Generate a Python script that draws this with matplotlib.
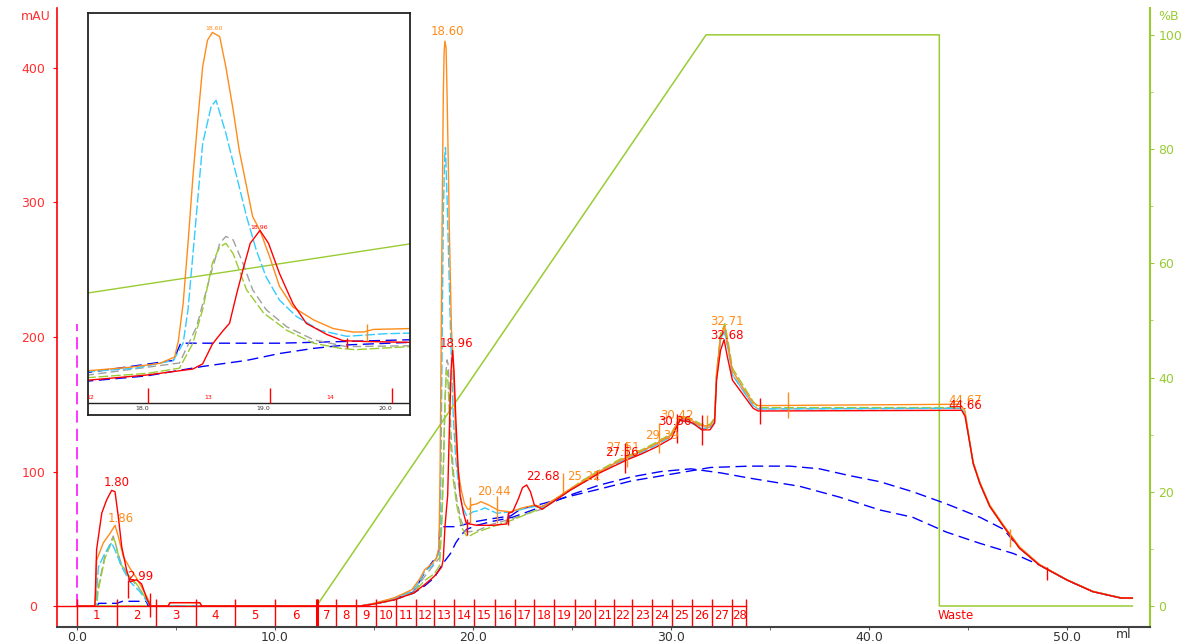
import matplotlib.pyplot as plt
from matplotlib.ticker import MultipleLocator

plt.rcParams['font.family'] = 'DejaVu Sans'

# UV traces as (ml, mAU)
red = [(0, 0), (0.9, 0), (0.92, 7), (0.99, 42), (1.25, 69), (1.5, 79), (1.75, 86), (1.92, 85), (2.09, 66),
       (2.26, 44), (2.5, 27), (2.68, 18), (3.0, 19.5), (3.26, 16.5), (3.52, 5.7), (3.7, 0),
       (4.6, 0), (4.7, 2.5), (6.2, 2.5), (6.3, 0),
       (14.3, 0), (15.0, 1.5), (16.0, 4.5), (17.0, 9.6),
       (17.56, 16), (18.04, 22), (18.42, 29), (18.50, 35), (18.58, 58), (18.67, 74), (18.72, 82), (18.78, 117),
       (18.83, 144), (18.89, 175), (18.97, 190), (19.04, 175), (19.13, 140), (19.24, 105), (19.35, 82),
       (19.52, 69), (19.65, 62), (19.82, 61), (20.20, 60),
       (21.0, 60), (21.7, 61), (21.8, 69), (22.0, 70), (22.3, 80), (22.5, 88), (22.71, 90), (22.9, 85),
       (23.1, 75), (23.5, 72), (24.2, 79), (24.9, 86), (25.6, 92), (26.4, 99), (27.4, 106), (27.76, 108.6),
       (28.5, 113), (29.28, 118.4), (30.03, 124.7), (30.25, 132), (30.45, 138), (30.9, 137), (31.1, 136),
       (31.55, 131), (31.97, 131), (32.2, 136), (32.3, 168), (32.5, 190), (32.68, 198), (32.85, 185),
       (33.1, 168), (33.6, 158), (34.15, 147), (34.4, 145),
       (44.68, 145.5), (44.85, 141), (45.0, 128.6), (45.26, 106), (45.6, 91), (46.1, 74), (46.8, 59),
       (47.6, 43), (48.6, 30.5), (50.0, 19.3), (51.3, 10.7), (52.7, 6), (53.3, 5.9)]

orange = [(0, 0), (0.9, 0), (0.95, 10), (0.99, 34), (1.33, 47), (1.67, 54), (1.92, 60), (2.09, 51.5),
          (2.34, 36.7), (2.68, 28), (3.0, 21), (3.52, 7), (3.75, 0),
          (4.6, 0), (4.7, 2.5), (6.2, 2.5), (6.3, 0),
          (14.3, 0), (15.0, 2), (16.0, 6), (16.9, 12), (17.3, 20),
          (17.56, 27), (17.90, 31), (18.15, 35.6), (18.27, 43), (18.30, 61), (18.34, 105), (18.38, 175),
          (18.42, 252), (18.46, 318), (18.50, 380), (18.54, 411), (18.58, 420), (18.64, 415), (18.69, 380),
          (18.75, 330), (18.80, 283), (18.86, 241), (18.91, 206), (18.97, 190), (19.05, 159), (19.13, 125),
          (19.24, 101), (19.41, 86), (19.57, 76), (19.73, 72), (19.82, 72), (19.90, 75), (20.20, 76),
          (20.4, 77.6), (20.8, 75), (21.3, 71), (21.9, 70), (22.5, 73), (23.1, 75), (23.5, 74), (24.2, 80),
          (24.9, 87), (25.6, 93), (26.4, 100), (27.4, 108), (28.5, 115), (29.3, 121), (30.0, 127),
          (30.25, 134), (30.45, 140), (30.9, 139), (31.55, 134), (31.97, 134), (32.2, 139), (32.3, 172),
          (32.5, 200), (32.71, 208), (32.9, 192), (33.1, 175), (33.6, 163), (34.15, 151), (34.4, 149),
          (44.6, 150), (44.85, 145), (45.0, 130), (45.26, 107), (45.6, 92), (46.1, 75), (46.8, 60),
          (47.6, 44), (48.6, 31), (50.0, 19.5), (51.3, 11), (52.7, 6.2), (53.3, 6)]

cyan = [(0, 0), (0.95, 0), (1.0, 12), (1.08, 29), (1.4, 39), (1.75, 47), (1.92, 41.6), (2.26, 29), (2.68, 18),
        (3.18, 10.6), (3.6, 2), (3.8, 0),
        (14.3, 0), (15.0, 2), (16.0, 5.5), (16.9, 11), (17.3, 18),
        (17.56, 26), (17.95, 30), (18.26, 39), (18.34, 59), (18.38, 98), (18.44, 194), (18.50, 291),
        (18.57, 334), (18.61, 341), (18.69, 303), (18.78, 252), (18.86, 206), (18.94, 167), (19.02, 136),
        (19.13, 109), (19.27, 90), (19.46, 74), (19.68, 67), (20.0, 70), (20.3, 71), (20.6, 73), (21.2, 69),
        (21.9, 70), (22.5, 72), (23.1, 74), (23.5, 73), (24.2, 79), (24.9, 86), (25.6, 92), (26.4, 99),
        (27.4, 107), (28.5, 114), (29.3, 120), (30.0, 126), (30.25, 133), (30.45, 138), (30.9, 137),
        (31.55, 132), (31.97, 132), (32.2, 137), (32.3, 170), (32.5, 198), (32.7, 205), (32.9, 190),
        (33.1, 172), (33.6, 161), (34.15, 149), (34.4, 146.5),
        (44.6, 147), (44.85, 143), (45.0, 129), (45.26, 106.5), (45.6, 91.5), (46.1, 74.5), (46.8, 59.5),
        (47.6, 43.5), (48.6, 31), (50.0, 19.5), (51.3, 11), (52.7, 6.2), (53.3, 6)]

green = [(0, 0), (1.0, 0), (1.05, 10), (1.4, 35), (1.83, 50.4), (1.92, 48), (2.18, 32), (2.5, 24.5),
         (3.0, 16.6), (3.5, 5), (3.75, 0),
         (14.3, 0), (15.0, 1.5), (16.0, 4.5), (17.0, 10),
         (17.56, 19), (18.05, 24), (18.31, 30), (18.42, 59), (18.50, 98), (18.58, 152), (18.64, 171),
         (18.69, 175), (18.75, 163), (18.86, 121), (19.0, 94), (19.19, 74), (19.41, 59), (19.63, 53),
         (19.75, 51.5), (20.2, 55),
         (21.0, 59), (22.0, 64), (23.0, 70), (23.5, 73), (24.2, 80), (24.9, 87), (25.6, 94), (26.4, 101),
         (27.4, 109), (28.5, 116), (29.3, 122), (30.0, 128), (30.25, 135), (30.45, 141), (30.9, 140),
         (31.55, 135), (31.97, 135), (32.2, 140), (32.3, 174), (32.5, 202), (32.72, 210), (32.9, 195),
         (33.1, 177), (33.6, 165), (34.15, 152), (34.4, 147.5),
         (44.6, 147.5), (44.85, 143), (45.0, 129), (45.26, 106), (45.6, 91), (46.1, 74), (46.8, 59),
         (47.6, 43), (48.6, 30.5), (50.0, 19.3), (51.3, 10.7), (52.7, 6), (53.3, 5.9)]

gray = [(0, 0), (1.0, 0), (1.05, 12), (1.4, 37), (1.83, 52), (2.2, 33), (2.6, 22), (3.1, 14), (3.6, 3),
        (3.8, 0),
        (14.3, 0), (15.0, 1.5), (16.0, 4.8), (17.0, 10.5),
        (17.56, 22), (18.31, 36), (18.45, 78), (18.56, 136), (18.64, 175), (18.69, 183), (18.75, 179),
        (18.83, 152), (18.91, 121), (19.02, 98), (19.19, 78), (19.41, 63), (19.68, 55), (20.2, 56),
        (21.0, 61), (22.0, 65), (23.0, 70), (23.5, 72), (24.2, 79), (24.9, 86), (25.6, 93), (26.4, 100),
        (27.4, 108), (28.5, 115), (29.3, 121), (30.0, 127), (30.25, 134), (30.45, 139), (30.9, 138),
        (31.55, 133), (31.97, 133), (32.2, 138), (32.3, 171), (32.5, 199), (32.7, 204), (32.9, 190),
        (33.1, 172), (33.6, 161), (34.15, 149), (34.4, 146.5),
        (44.6, 147), (44.85, 143), (45.0, 129), (45.26, 106), (45.6, 91), (46.1, 74), (46.8, 59),
        (47.6, 43), (48.6, 30.5), (50.0, 19.3), (51.3, 10.7), (52.7, 6), (53.3, 5.9)]

blue_a = [(1.0, 0), (1.1, 2), (2.0, 2), (2.3, 3.5), (3.5, 3.5), (3.6, 0),
          (14.3, 0), (15.0, 1.5), (16.0, 5), (17.0, 10.5),
          (17.56, 25), (18.26, 39), (18.32, 59), (19.13, 59), (20.2, 63), (21.0, 65), (21.9, 67), (22.4, 72),
          (23.5, 76), (25.0, 82), (26.4, 87), (28.0, 93), (30.0, 98), (32.0, 103), (34.0, 104), (36.0, 104),
          (37.5, 102), (39.0, 97), (40.55, 92.4), (42.2, 85), (43.9, 76), (45.6, 66), (46.8, 57),
          (47.6, 43), (48.6, 30.5), (50.0, 19.3), (51.3, 10.7), (52.7, 6), (53.3, 5.9)]

blue_b = [(14.3, 0), (15.0, 1.5), (16.0, 4.5), (17.0, 9.6),
          (17.56, 15), (18.04, 21), (18.50, 32), (18.86, 39), (19.13, 47), (19.41, 53), (19.68, 57),
          (20.2, 60), (21.0, 63), (22.0, 66), (23.5, 74), (25.0, 83), (26.4, 90), (28.0, 96), (29.5, 100),
          (31.0, 102), (32.5, 99), (34.0, 95), (36.5, 89), (38.5, 81), (40.55, 71.4), (42.2, 66),
          (43.9, 55), (45.6, 46.6), (47.3, 39), (48.6, 30.5), (50.0, 19.3), (51.3, 10.7), (52.7, 6),
          (53.3, 5.9)]

# %B gradient
grad_ml = [0.95, 12.1, 31.77, 43.55, 43.55, 53.3]
grad_pct = [0, 0, 100, 100, 0, 0]

# fractions
frac_edges = [0, 2, 4, 6, 8, 10, 12.1, 13.1, 14.1, 15.1, 16.1, 17.1, 18.05, 19.05, 20.05, 21.1, 22.1,
              23.1, 24.1, 25.15, 26.15, 27.1, 28.05, 29.05, 30.05, 31.05, 32.05, 33.1, 33.8]
frac_names = [str(i) for i in range(1, 29)]

# peak-end markers
red_mark_ml = [2.6, 3.7, 19.68, 21.77, 26.25, 27.7, 30.3, 31.55, 34.5, 49.0]
red_mark_lo = [6, -8, 53, 60, 94, 99, 121, 120, 135, 19]
red_mark_hi = [19, 10, 65, 70, 101, 121, 143, 142, 155, 29]
orange_mark_ml = [19.85, 21.2, 24.55, 27.8, 29.4, 31.8, 35.9, 47.1]
orange_mark_lo = [62, 62, 84, 103, 114, 131, 140, 44]
orange_mark_hi = [81, 82, 99, 121, 136, 142, 159, 57]

# peak labels
RED, ORANGE = '#ff0000', '#ff8c1a'
peak_text = ['1.80', '1.86', '2.99', '18.60', '18.96', '20.44', '22.68', '25.22', '27.51', '27.56',
             '29.39', '30.42', '30.36', '32.71', '32.68', '44.67', '44.66']
peak_x = [2.02, 2.22, 3.18, 18.69, 19.14, 21.06, 23.54, 25.6, 27.57, 27.53,
          29.55, 30.3, 30.2, 32.83, 32.83, 44.85, 44.85]
peak_y = [91.5, 64.7, 22, 427, 195.5, 85, 96, 96, 118, 114,
          127, 142, 137, 211.5, 201, 153, 149]
peak_col = [RED, ORANGE, RED, ORANGE, RED, ORANGE, RED, ORANGE, ORANGE, RED,
            ORANGE, ORANGE, RED, ORANGE, RED, ORANGE, RED]

W, H = 1188, 642


def box(x0, y0, x1, y1):
    return [x0 / W, 1 - y1 / H, (x1 - x0) / W, (y1 - y0) / H]


traces = [
    (blue_b, '#0000ff', (0, (8, 4))),
    (blue_a, '#0000ff', (0, (8, 4))),
    (gray, '#a0a0a0', (0, (6, 3))),
    (green, '#99cc33', (0, (7, 2))),
    (cyan, '#33ccff', (0, (7, 2))),
    (orange, ORANGE, '-'),
    (red, RED, '-'),
]
GREEN = '#99cc33'

fig = plt.figure(figsize=(W / 100, H / 100), dpi=100)
ax = fig.add_axes(box(57, 8, 1150, 627))
ax2 = ax.twinx()
ax.set_zorder(ax2.get_zorder() + 1)
ax.patch.set_visible(False)

ax.set_xlim(-1.01, 54.19)
ax.set_ylim(-15.6, 444.6)
ax2.set_ylim(-3.68, 104.7)

ax2.plot(grad_ml, grad_pct, color=GREEN, lw=1.1)
for pts, col, ls in traces:
    x, y = zip(*pts)
    ax.plot(x, y, color=col, ls=ls, lw=1.0)

ax.plot([0, 0], [0, 210], color='#ff00ff', ls=(0, (8, 4)), lw=1.1)
ax.plot([-1.01, 33.8], [0, 0], color=RED, lw=1.0)
ax.vlines(frac_edges, -15.6, 5, color=RED, lw=1.0)
ax.vlines([12.1], -15.6, 5, color=RED, lw=2.2)
for i, name in enumerate(frac_names):
    ax.text((frac_edges[i] + frac_edges[i + 1]) / 2, -6.7, name, color=RED, fontsize=8.5,
            ha='center', va='center')
ax.text(44.4, -6.7, 'Waste', color=RED, fontsize=8.5, ha='center', va='center')

ax.vlines(red_mark_ml, red_mark_lo, red_mark_hi, color=RED, lw=1.0)
ax.vlines(orange_mark_ml, orange_mark_lo, orange_mark_hi, color=ORANGE, lw=1.0)
for t, x, y, c in zip(peak_text, peak_x, peak_y, peak_col):
    ax.text(x, y, t, color=c, fontsize=8.5, ha='center', va='center')

# axes styling
ax.spines['top'].set_visible(False)
ax.spines['right'].set_visible(False)
ax.spines['left'].set_color(RED)
ax.spines['left'].set_linewidth(1.2)
ax.spines['bottom'].set_color('#404040')
ax.spines['bottom'].set_linewidth(1.5)
for s in ['top', 'left', 'bottom']:
    ax2.spines[s].set_visible(False)
ax2.spines['right'].set_color(GREEN)
ax2.spines['right'].set_linewidth(1.5)

ax.set_xticks(range(0, 51, 10))
ax.set_xticklabels([f'{v:.1f}' for v in range(0, 51, 10)])
ax.xaxis.set_minor_locator(MultipleLocator(5))
ax.tick_params(axis='x', which='both', length=2, color='#505050', labelcolor='#333333',
               labelsize=9, pad=1)
ax.set_yticks(range(0, 401, 100))
ax.tick_params(axis='y', length=3, color=RED, labelcolor='#ff3030', labelsize=9, pad=14)
for lab in ax.get_yticklabels():
    lab.set_horizontalalignment('center')

ax2.set_yticks(range(0, 101, 20))
ax2.yaxis.set_minor_locator(MultipleLocator(10))
ax2.tick_params(axis='y', which='major', length=3, color=GREEN, labelcolor=GREEN, labelsize=9, pad=3)
ax2.tick_params(axis='y', which='minor', length=2, color=GREEN)

fig.text(36 / W, 1 - 17 / H, 'mAU', color='#ff3030', fontsize=9, ha='center', va='center')
fig.text(1169 / W, 1 - 17 / H, '%B', color=GREEN, fontsize=9, ha='center', va='center')
fig.text(1124 / W, 1 - 635 / H, 'ml', color='#333333', fontsize=9, ha='center', va='center')

# inset zoom on the main peak
IN_LO, IN_HI = 17.56, 20.20
axin_bg = fig.add_axes(box(88, 13, 410, 415))
axin_bg.set_zorder(5)
axin_bg.set_xlim(IN_LO, IN_HI)
axin_bg.set_ylim(-5.6, 104.3)
axin_bg.axis('off')
axin_bg.add_patch(plt.Rectangle((0, 0), 1, 1, transform=axin_bg.transAxes, color='white', zorder=0))
axin_bg.plot(grad_ml, grad_pct, color=GREEN, lw=1.0)

axin = fig.add_axes(box(88, 13, 410, 415))
axin.set_zorder(6)
axin.patch.set_visible(False)
axin.set_xlim(IN_LO, IN_HI)
axin.set_ylim(-24.4, 442.5)
axin.set_xticks([])
axin.set_yticks([])
for s in axin.spines.values():
    s.set_color('#222222')
    s.set_linewidth(1.3)
for pts, col, ls in traces:
    x, y = zip(*pts)
    axin.plot(x, y, color=col, ls=ls, lw=1.0)
axin.axhline(-10.5, color='#222222', lw=1.0)
axin.vlines(frac_edges, -10.5, 7, color=RED, lw=1.0)
for i, name in enumerate(frac_names):
    mid = (frac_edges[i] + frac_edges[i + 1]) / 2
    if IN_LO < mid < IN_HI:
        axin.text(mid, -4.6, name, color=RED, fontsize=4.5, ha='center', va='center')
for v in [18, 19, 20]:
    axin.text(v, -17.4, f'{v:.1f}', color='#333333', fontsize=4.5, ha='center', va='center')
axin.vlines(red_mark_ml, red_mark_lo, red_mark_hi, color=RED, lw=1.0)
axin.vlines(orange_mark_ml, orange_mark_lo, orange_mark_hi, color=ORANGE, lw=1.0)
axin.text(18.59, 425, '18.60', color=ORANGE, fontsize=4.5, ha='center', va='center')
axin.text(18.96, 193, '18.96', color=RED, fontsize=4.5, ha='center', va='center')

fig.savefig('out.png', dpi=100)
